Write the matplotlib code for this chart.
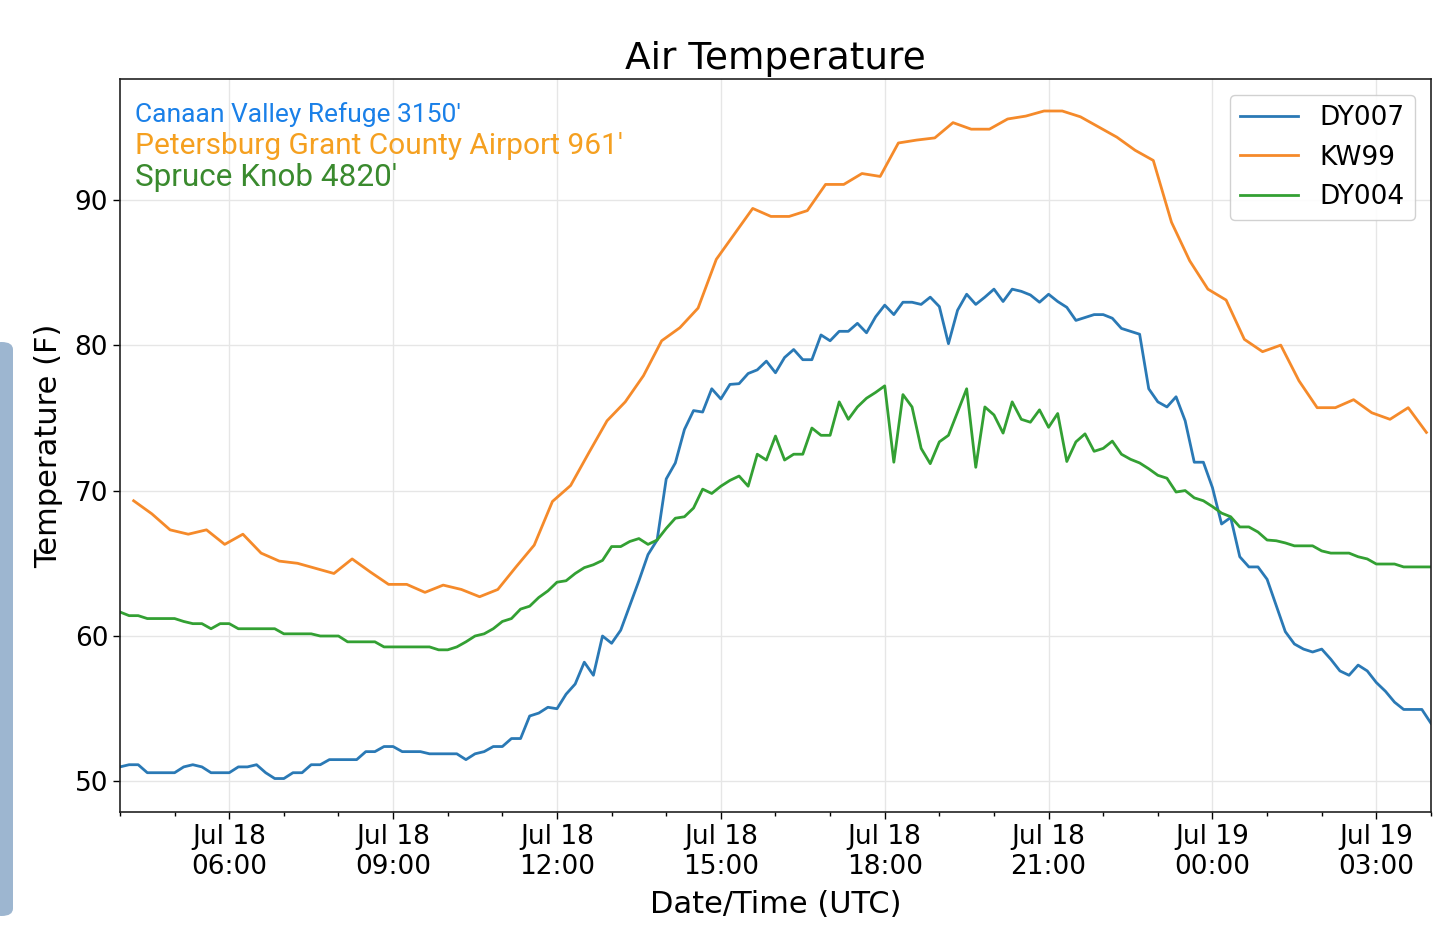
import matplotlib
matplotlib.use("Agg")
import matplotlib.pyplot as plt
import matplotlib.dates as mdates
from matplotlib.patches import FancyBboxPatch
import pandas as pd

# ---- data ----
dy007_start = "2018-07-18 04:00"
dy007_step = "10min"
dy007 = [
    51.0, 51.15, 51.15, 50.6, 50.6, 50.6, 50.6, 51.0, 51.15, 51.0,
    50.6, 50.6, 50.6, 51.0, 51.0, 51.15, 50.6, 50.2, 50.2, 50.6,
    50.6, 51.15, 51.15, 51.5, 51.5, 51.5, 51.5, 52.05, 52.05, 52.4,
    52.4, 52.05, 52.05, 52.05, 51.9, 51.9, 51.9, 51.9, 51.5, 51.9,
    52.05, 52.4, 52.4, 52.95, 52.95, 54.5, 54.7, 55.1, 55.0, 56.0,
    56.7, 58.2, 57.3, 60.0, 59.5, 60.4, 62.1, 63.8, 65.6, 66.6,
    70.8, 71.9, 74.2, 75.5, 75.4, 77.0, 76.3, 77.3, 77.35, 78.05,
    78.3, 78.9, 78.1, 79.15, 79.7, 79.0, 79.0, 80.7, 80.3, 80.95,
    80.95, 81.5, 80.85, 81.95, 82.75, 82.1, 82.95, 82.95, 82.8, 83.3,
    82.65, 80.1, 82.4, 83.5, 82.8, 83.3, 83.85, 83.0, 83.85, 83.7,
    83.45, 82.95, 83.5, 83.0, 82.6, 81.7, 81.9, 82.1, 82.1, 81.85,
    81.15, 80.95, 80.75, 77.0, 76.1, 75.75, 76.45, 74.8, 71.95, 71.95,
    70.2, 67.7, 68.15, 65.45, 64.75, 64.75, 63.9, 62.1, 60.3, 59.45,
    59.1, 58.9, 59.1, 58.4, 57.6, 57.3, 58.0, 57.6, 56.8, 56.2,
    55.45, 54.95, 54.95, 54.95, 54.0,
]

dy004_start = "2018-07-18 04:00"
dy004_step = "10min"
dy004 = [
    61.65, 61.4, 61.4, 61.2, 61.2, 61.2, 61.2, 61.0, 60.85, 60.85,
    60.5, 60.85, 60.85, 60.5, 60.5, 60.5, 60.5, 60.5, 60.15, 60.15,
    60.15, 60.15, 60.0, 60.0, 60.0, 59.6, 59.6, 59.6, 59.6, 59.25,
    59.25, 59.25, 59.25, 59.25, 59.25, 59.05, 59.05, 59.25, 59.6, 60.0,
    60.15, 60.5, 61.0, 61.2, 61.85, 62.05, 62.65, 63.1, 63.7, 63.8,
    64.3, 64.7, 64.9, 65.2, 66.15, 66.15, 66.5, 66.7, 66.3, 66.6,
    67.4, 68.1, 68.2, 68.8, 70.1, 69.8, 70.3, 70.7, 71.0, 70.3,
    72.5, 72.1, 73.75, 72.1, 72.5, 72.5, 74.3, 73.8, 73.8, 76.1,
    74.9, 75.75, 76.35, 76.75, 77.2, 71.95, 76.6, 75.75, 72.9, 71.85,
    73.35, 73.8, 75.4, 77.0, 71.6, 75.75, 75.2, 73.95, 76.1, 74.9,
    74.7, 75.55, 74.35, 75.3, 72.0, 73.35, 73.9, 72.7, 72.9, 73.4,
    72.5, 72.15, 71.9, 71.5, 71.05, 70.85, 69.9, 70.0, 69.5, 69.3,
    68.9, 68.45, 68.2, 67.5, 67.5, 67.15, 66.6, 66.55, 66.4, 66.2,
    66.2, 66.2, 65.85, 65.7, 65.7, 65.7, 65.45, 65.3, 64.95, 64.95,
    64.95, 64.75, 64.75, 64.75, 64.75,
]

kw99_start = "2018-07-18 04:15"
kw99_step = "20min"
kw99 = [
    69.3, 68.4, 67.3, 67.0, 67.3, 66.3, 67.0, 65.7, 65.15, 65.0,
    64.65, 64.3, 65.3, 64.4, 63.55, 63.55, 63.0, 63.5, 63.2, 62.7,
    63.2, 64.75, 66.25, 69.25, 70.35, 72.6, 74.8, 76.1, 77.9, 80.3,
    81.2, 82.55, 85.9, 87.65, 89.4, 88.85, 88.85, 89.25, 91.05, 91.05,
    91.8, 91.6, 93.9, 94.1, 94.25, 95.3, 94.85, 94.85, 95.55, 95.75,
    96.1, 96.1, 95.7, 95.0, 94.3, 93.4, 92.7, 88.45, 85.8, 83.85,
    83.1, 80.4, 79.55, 80.0, 77.55, 75.7, 75.7, 76.25, 75.35, 74.9,
    75.7, 74.0,
]

series_labels = ["DY007", "KW99", "DY004"]
station_names = ["Canaan Valley Refuge 3150'",
                 "Petersburg Grant County Airport 961'",
                 "Spruce Knob 4820'"]

t_dy007 = pd.date_range(dy007_start, periods=len(dy007), freq=dy007_step)
t_dy004 = pd.date_range(dy004_start, periods=len(dy004), freq=dy004_step)
t_kw99 = pd.date_range(kw99_start, periods=len(kw99), freq=kw99_step)

# ---- figure ----
plt.rcParams['font.family'] = ['DejaVu Sans']
fig = plt.figure(figsize=(14.37, 9.36), dpi=100)
ax = fig.add_axes([0.0835, 0.1325, 0.9123, 0.7831])

lw = 2.0
ax.plot(t_dy007, dy007, color='#2a79b5', lw=lw, label=series_labels[0])
ax.plot(t_kw99, kw99, color='#f58a2a', lw=lw, label=series_labels[1])
ax.plot(t_dy004, dy004, color='#33a033', lw=lw, label=series_labels[2])

ax.set_xlim(t_dy007[0], t_dy007[-1])
ax.set_ylim(47.9, 98.3)
ax.set_yticks([50, 60, 70, 80, 90])

ax.xaxis.set_major_locator(mdates.HourLocator(byhour=[0, 3, 6, 9, 12, 15, 18, 21]))
ax.xaxis.set_minor_locator(mdates.HourLocator())
ax.xaxis.set_major_formatter(mdates.DateFormatter('%b %d\n%H:%M'))

ax.grid(True, which='major', color='#e6e6e6', lw=1.0)
ax.set_axisbelow(True)
ax.tick_params(axis='both', which='major', labelsize=19, length=5, width=1)
ax.tick_params(axis='x', which='minor', length=3, width=1)
for lab in ax.get_xticklabels():
    lab.set_ha('center')

ax.set_title('Air Temperature', fontsize=27, pad=7)
ax.set_xlabel('Date/Time (UTC)', fontsize=22, labelpad=7)
ax.set_ylabel('Temperature (F)', fontsize=22, labelpad=8)

for sp in ax.spines.values():
    sp.set_color('#222222')
    sp.set_linewidth(1.2)

leg = ax.legend(loc='upper right', fontsize=19, handlelength=2.2,
                borderaxespad=0.6, framealpha=0.9, edgecolor='#cccccc',
                fancybox=True, labelspacing=0.5)

ax.text(0.0114, 0.951, station_names[0], transform=ax.transAxes,
        color='#1a80e8', fontsize=19, family='Roboto', va='center')
ax.text(0.0114, 0.909, station_names[1], transform=ax.transAxes,
        color='#f5a020', fontsize=21.5, family='Roboto', va='center')
ax.text(0.0114, 0.866, station_names[2], transform=ax.transAxes,
        color='#3a8a2e', fontsize=22.7, family='Roboto', va='center')

# side bar from the screenshot
bar = FancyBboxPatch((-10 / 1437, 1 - 916 / 936), 23 / 1437, 574 / 936,
                     boxstyle='round,pad=0,rounding_size=0.008',
                     transform=fig.transFigure, facecolor='#9db6d0',
                     edgecolor='none')
fig.patches.append(bar)

fig.savefig('out.png', dpi=100)
